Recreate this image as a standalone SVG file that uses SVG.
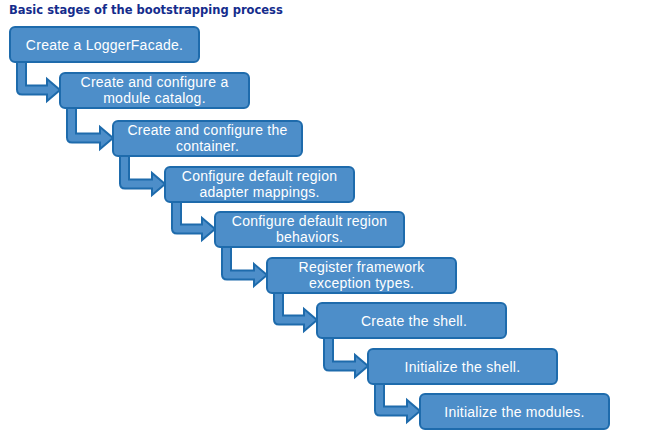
<svg xmlns="http://www.w3.org/2000/svg" width="661" height="434" viewBox="0 0 661 434">
<style>
.bg{fill:#ffffff}
.title{font-family:"DejaVu Sans",Verdana,sans-serif;font-weight:bold;font-size:11.5px;fill:#142c8c}
.box{fill:#4d8ec9;stroke:#1e6bac;stroke-width:2}
.arr{fill:#4d8ec9;stroke:#1e6bac;stroke-width:2;stroke-linejoin:miter}
.t{font-family:"Liberation Sans",Arial,sans-serif;font-size:14px;letter-spacing:0.25px;fill:#ffffff;text-anchor:middle}
</style>
<rect class="bg" x="0" y="0" width="661" height="434"/>
<text class="title" x="9" y="14">Basic stages of the bootstrapping process</text>
<g id="connectors">
<path class="arr" d="M17,60 H26 V85.5 H47 V79 L60,90 L47,101 V94.5 H22 Q17,94.5 17,89.5 Z"/>
<path class="arr" d="M67,106 H76 V133.5 H100 V127 L113,138 L100,149 V142.5 H72 Q67,142.5 67,137.5 Z"/>
<path class="arr" d="M120,154 H129 V179.5 H152 V173 L165,184 L152,195 V188.5 H125 Q120,188.5 120,183.5 Z"/>
<path class="arr" d="M172,200 H181 V224.5 H202 V218 L215,229 L202,240 V233.5 H177 Q172,233.5 172,228.5 Z"/>
<path class="arr" d="M222,245 H231 V270.5 H254 V264 L267,275 L254,286 V279.5 H227 Q222,279.5 222,274.5 Z"/>
<path class="arr" d="M274,291 H283 V315.5 H304 V309 L317,320 L304,331 V324.5 H279 Q274,324.5 274,319.5 Z"/>
<path class="arr" d="M324,336 H333 V361.5 H355 V355 L368,366 L355,377 V370.5 H329 Q324,370.5 324,365.5 Z"/>
<path class="arr" d="M375,382 H384 V406.5 H407 V400 L420,411 L407,422 V415.5 H380 Q375,415.5 375,410.5 Z"/>
</g>
<g id="n1"><rect class="box" x="10" y="27" width="189" height="35" rx="5"/><text class="t" x="104.5" y="49.5">Create a LoggerFacade.</text></g>
<g id="n2"><rect class="box" x="60" y="73" width="189" height="35" rx="5"/><text class="t" x="154.5" y="87">Create and configure a<tspan x="154.5" dy="16">module catalog.</tspan></text></g>
<g id="n3"><rect class="box" x="113" y="121" width="189" height="35" rx="5"/><text class="t" x="207.5" y="135">Create and configure the<tspan x="207.5" dy="16">container.</tspan></text></g>
<g id="n4"><rect class="box" x="165" y="167" width="189" height="35" rx="5"/><text class="t" x="259.5" y="181">Configure default region<tspan x="259.5" dy="16">adapter mappings.</tspan></text></g>
<g id="n5"><rect class="box" x="215" y="212" width="189" height="35" rx="5"/><text class="t" x="309.5" y="226">Configure default region<tspan x="309.5" dy="16">behaviors.</tspan></text></g>
<g id="n6"><rect class="box" x="267" y="258" width="189" height="35" rx="5"/><text class="t" x="361.5" y="272">Register framework<tspan x="361.5" dy="16">exception types.</tspan></text></g>
<g id="n7"><rect class="box" x="317" y="303" width="189" height="35" rx="5"/><text class="t" x="414" y="325.5">Create the shell.</text></g>
<g id="n8"><rect class="box" x="368" y="349" width="189" height="35" rx="5"/><text class="t" x="462.5" y="371.5">Initialize the shell.</text></g>
<g id="n9"><rect class="box" x="420" y="394" width="189" height="35" rx="5"/><text class="t" x="514.5" y="416.5">Initialize the modules.</text></g>
</svg>
